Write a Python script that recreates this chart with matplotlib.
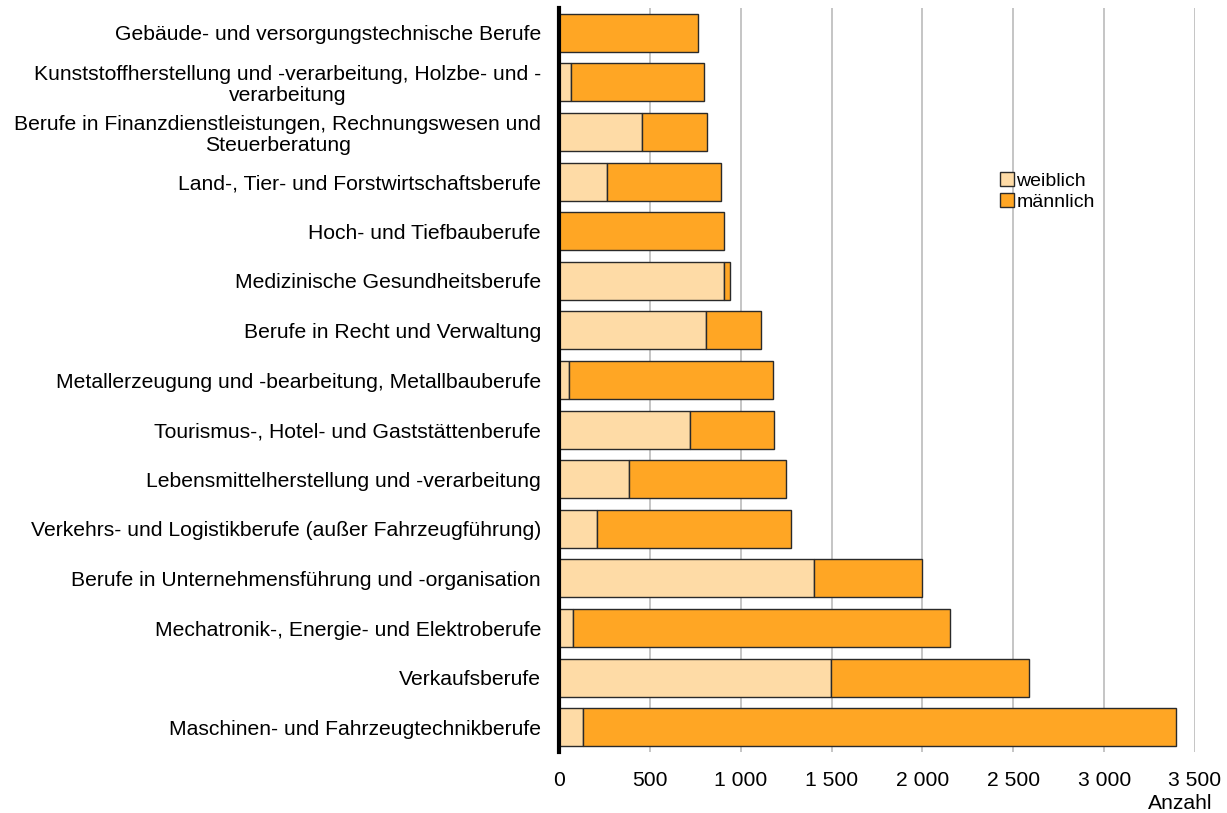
import matplotlib
matplotlib.use("Agg")
import matplotlib.pyplot as plt
from matplotlib.ticker import FuncFormatter, MultipleLocator

plt.rcParams['font.family'] = ['Liberation Sans', 'DejaVu Sans']

categories = [
    "Gebäude- und versorgungstechnische Berufe",
    "Kunststoffherstellung und -verarbeitung, Holzbe- und -\nverarbeitung",
    "Berufe in Finanzdienstleistungen, Rechnungswesen und\nSteuerberatung",
    "Land-, Tier- und Forstwirtschaftsberufe",
    "Hoch- und Tiefbauberufe",
    "Medizinische Gesundheitsberufe",
    "Berufe in Recht und Verwaltung",
    "Metallerzeugung und -bearbeitung, Metallbauberufe",
    "Tourismus-, Hotel- und Gaststättenberufe",
    "Lebensmittelherstellung und -verarbeitung",
    "Verkehrs- und Logistikberufe (außer Fahrzeugführung)",
    "Berufe in Unternehmensführung und -organisation",
    "Mechatronik-, Energie- und Elektroberufe",
    "Verkaufsberufe",
    "Maschinen- und Fahrzeugtechnikberufe",
]
weiblich = [0, 64, 458, 265, 0, 907, 811, 53, 721, 385, 211, 1402, 78, 1496, 132]
maennlich = [764, 736, 357, 625, 910, 34, 301, 1126, 464, 862, 1063, 595, 2076, 1088, 3265]
series_labels = ["weiblich", "männlich"]
colors = ["#FEDBA6", "#FFA624"]

FS = 15.2

fig = plt.figure(figsize=(12.27, 8.13), dpi=100)
ax = fig.add_axes([559 / 1227, 61 / 813, 636 / 1227, 744 / 813])

y = list(range(len(categories)))
h = 0.77
ax.barh(y, weiblich, height=h, color=colors[0], edgecolor="#2a2a2a",
        linewidth=1.0, label=series_labels[0], zorder=3)
ax.barh(y, maennlich, left=weiblich, height=h, color=colors[1],
        edgecolor="#2a2a2a", linewidth=1.0, label=series_labels[1], zorder=3)

ax.set_ylim(len(categories) - 0.5, -0.5)
ax.set_xlim(0, 3500)
ax.xaxis.set_major_locator(MultipleLocator(500))
ax.xaxis.set_major_formatter(FuncFormatter(lambda v, p: f"{int(v):,}".replace(",", " ")))
ax.set_yticks(y)
ax.set_yticklabels(categories, fontsize=FS, multialignment="center", linespacing=1.12)
ax.tick_params(axis="both", length=0, labelsize=FS)
ax.tick_params(axis="y", pad=13)
ax.tick_params(axis="x", pad=13.5)

for s in ["top", "right", "bottom"]:
    ax.spines[s].set_visible(False)
ax.spines["left"].set_linewidth(3)
ax.spines["left"].set_color("black")
ax.spines["left"].set_zorder(5)

ax.grid(axis="x", color="#c0c0c0", linewidth=1.3, zorder=0)
ax.set_axisbelow(True)

fig.text(1212 / 1227, 1 - 803 / 813, "Anzahl", ha="right", va="center", fontsize=FS)

ax.legend(loc="upper left", bbox_to_anchor=(1000 / 1227, 1 - 172 / 813),
          bbox_transform=fig.transFigure, frameon=False, fontsize=14,
          handlelength=0.7, handleheight=0.7, handletextpad=0.15,
          labelspacing=0.18, borderpad=0, borderaxespad=0)

fig.savefig("out.png", dpi=100)
